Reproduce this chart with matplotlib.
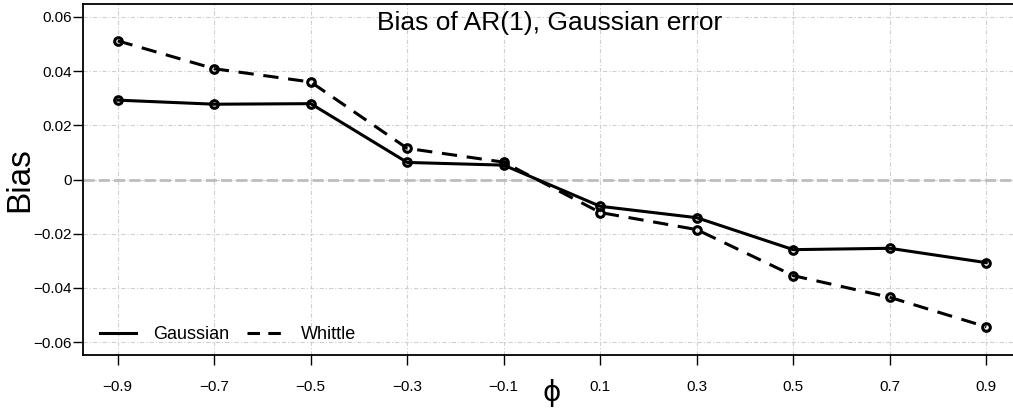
import numpy as np
import matplotlib
matplotlib.use("Agg")
import matplotlib.pyplot as plt
from matplotlib.lines import Line2D

plt.rcParams['font.family'] = ['Liberation Sans', 'DejaVu Sans']
plt.rcParams['lines.scale_dashes'] = False
plt.rcParams['axes.unicode_minus'] = True

# values
phi = [-0.9, -0.7, -0.5, -0.3, -0.1, 0.1, 0.3, 0.5, 0.7, 0.9]
bias_gaussian = [0.0293, 0.0278, 0.0280, 0.0063, 0.0053, -0.0099, -0.0141, -0.0259, -0.0254, -0.0307]
bias_whittle = [0.0512, 0.0409, 0.0360, 0.0115, 0.0064, -0.0122, -0.0185, -0.0355, -0.0435, -0.0544]
y_ticks = [-0.06, -0.04, -0.02, 0, 0.02, 0.04, 0.06]
y_tick_labels = ['\u22120.06', '\u22120.04', '\u22120.02', '0', '0.02', '0.04', '0.06']
x_tick_labels = ['\u22120.9', '\u22120.7', '\u22120.5', '\u22120.3', '\u22120.1', '0.1', '0.3', '0.5', '0.7', '0.9']

fig = plt.figure(figsize=(10.13, 4.08), dpi=100)
ax = fig.add_axes([83 / 1013, 53 / 408, 938 / 1013, 351 / 408])

ax.set_xlim(-0.972, 0.972)
ax.set_ylim(-0.0648, 0.0648)

# grid
grid_style = dict(color='#cfcfcf', lw=0.8, ls=(0, (3, 1.5, 0.8, 1.5)), zorder=0)
for x in phi:
    ax.axvline(x, **grid_style)
for y in y_ticks:
    ax.axhline(y, **grid_style)
ax.axhline(0, color='#bdbdbd', lw=2.0, ls=(0, (8, 3)), zorder=1)

ax.plot(phi, bias_whittle, color='black', lw=2.2, ls=(0, (11, 7)),
        marker='o', ms=5.5, mfc='none', mec='black', mew=2.2, zorder=3)
ax.plot(phi, bias_gaussian, color='black', lw=2.2, ls='-',
        marker='o', ms=5.5, mfc='none', mec='black', mew=2.2, zorder=4)

ax.set_xticks(phi)
ax.set_xticklabels(x_tick_labels)
ax.set_yticks(y_ticks)
ax.set_yticklabels(y_tick_labels)
ax.tick_params(axis='both', direction='out', length=7, width=1, labelsize=11)
ax.tick_params(axis='x', pad=11)
ax.tick_params(axis='y', pad=1)

for side in ['left', 'bottom', 'top']:
    ax.spines[side].set_linewidth(1.3)
ax.spines['right'].set_visible(False)

fig.text(550 / 1013, 1 - 30 / 408, 'Bias of AR(1), Gaussian error',
         ha='center', va='baseline', fontsize=19)
fig.text(20 / 1013, 1 - 180 / 408, 'Bias', rotation=90,
         ha='center', va='center', fontsize=24)
fig.text(552 / 1013, 1 - 393 / 408, '\u03d5', family=['DejaVu Sans'],
         ha='center', va='center', fontsize=20)

handles = [Line2D([], [], color='black', lw=2.2, ls='-'),
           Line2D([], [], color='black', lw=2.2, ls=(0, (9, 6)))]
ax.legend(handles, ['Gaussian', 'Whittle'], loc='lower left',
          bbox_to_anchor=(17 / 938, 12 / 351), borderpad=0, borderaxespad=0,
          ncol=2, frameon=False, fontsize=13, handlelength=2.0,
          handletextpad=0.95, columnspacing=1.0)

fig.savefig('out.png', dpi=100)
